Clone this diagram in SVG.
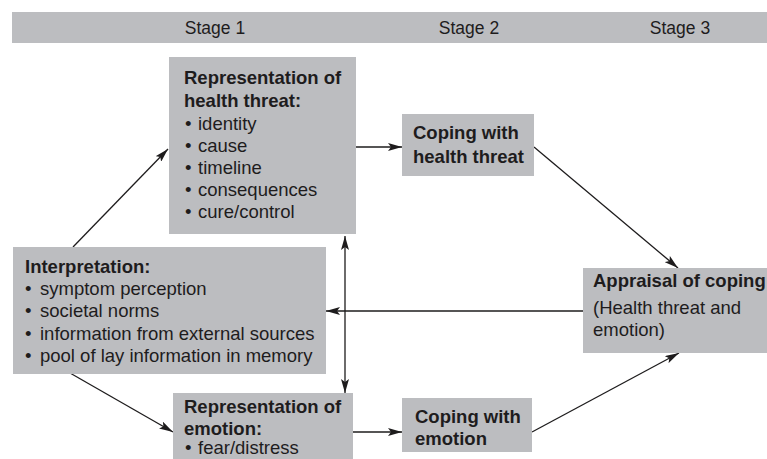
<svg xmlns="http://www.w3.org/2000/svg" width="767" height="459" viewBox="0 0 767 459">
<defs>
<style>
.box{fill:#bcbdc0;}
.t{font-family:"Liberation Sans",Arial,Helvetica,sans-serif;font-size:18.5px;fill:#1e1c1d;}
.b{font-weight:bold;}
.hdr{font-family:"Liberation Sans",Arial,Helvetica,sans-serif;font-size:17.5px;fill:#1e1c1d;text-anchor:middle;}
.c{stroke:#1e1c1d;stroke-width:1.3;fill:none;marker-end:url(#ah);}
</style>
<marker id="ah" viewBox="0 0 14 8" refX="14" refY="4" markerWidth="14" markerHeight="8" markerUnits="userSpaceOnUse" orient="auto-start-reverse">
<path d="M0,0 L14,4 L0,8 L3,4 z" fill="#1e1c1d"/>
</marker>
</defs>
<g id="header">
<rect x="12" y="12" width="755" height="31" class="box"/>
<text class="hdr" x="215" y="34">Stage 1</text>
<text class="hdr" x="469" y="34">Stage 2</text>
<text class="hdr" x="680" y="34">Stage 3</text>
</g>
<g id="connectors">
<line class="c" x1="73" y1="247" x2="168" y2="149"/>
<line class="c" x1="70" y1="373" x2="173" y2="432"/>
<line class="c" x1="356" y1="147" x2="402" y2="147"/>
<line class="c" x1="353" y1="432" x2="402" y2="432"/>
<line class="c" x1="534" y1="147" x2="678" y2="268"/>
<line class="c" x1="532" y1="432" x2="679" y2="353"/>
<line class="c" x1="583" y1="311" x2="326" y2="311"/>
<line class="c" x1="345" y1="236" x2="345" y2="393" style="marker-start:url(#ah)"/>
</g>
<g id="rep-health-threat">
<rect x="169" y="57" width="187" height="177" class="box"/>
<text class="t b" x="184" y="84">Representation of</text>
<text class="t b" x="184" y="107">health threat:</text>
<text class="t" x="185" y="130">•<tspan x="198">identity</tspan></text>
<text class="t" x="185" y="152">•<tspan x="198">cause</tspan></text>
<text class="t" x="185" y="174">•<tspan x="198">timeline</tspan></text>
<text class="t" x="185" y="196">•<tspan x="198">consequences</tspan></text>
<text class="t" x="185" y="218">•<tspan x="198">cure/control</tspan></text>
</g>
<g id="coping-health-threat">
<rect x="402" y="114" width="132" height="62" class="box"/>
<text class="t b" x="413" y="139">Coping with</text>
<text class="t b" x="413" y="163">health threat</text>
</g>
<g id="interpretation">
<rect x="13" y="247" width="313" height="127" class="box"/>
<text class="t b" x="25" y="273">Interpretation:</text>
<text class="t" x="25" y="295">•<tspan x="40">symptom perception</tspan></text>
<text class="t" x="25" y="317">•<tspan x="40">societal norms</tspan></text>
<text class="t" x="25" y="340">•<tspan x="40">information from external sources</tspan></text>
<text class="t" x="25" y="362">•<tspan x="40">pool of lay information in memory</tspan></text>
</g>
<g id="appraisal">
<rect x="583" y="268" width="184" height="85" class="box"/>
<text class="t b" x="593" y="287">Appraisal of coping</text>
<text class="t" x="593" y="314">(Health threat and</text>
<text class="t" x="593" y="336">emotion)</text>
</g>
<g id="rep-emotion">
<rect x="173" y="393" width="180" height="66" class="box"/>
<text class="t b" x="184" y="413">Representation of</text>
<text class="t b" x="184" y="435">emotion:</text>
<text class="t" x="185" y="454">•<tspan x="198">fear/distress</tspan></text>
</g>
<g id="coping-emotion">
<rect x="402" y="398" width="130" height="54" class="box"/>
<text class="t b" x="415" y="423">Coping with</text>
<text class="t b" x="415" y="445">emotion</text>
</g>
</svg>
